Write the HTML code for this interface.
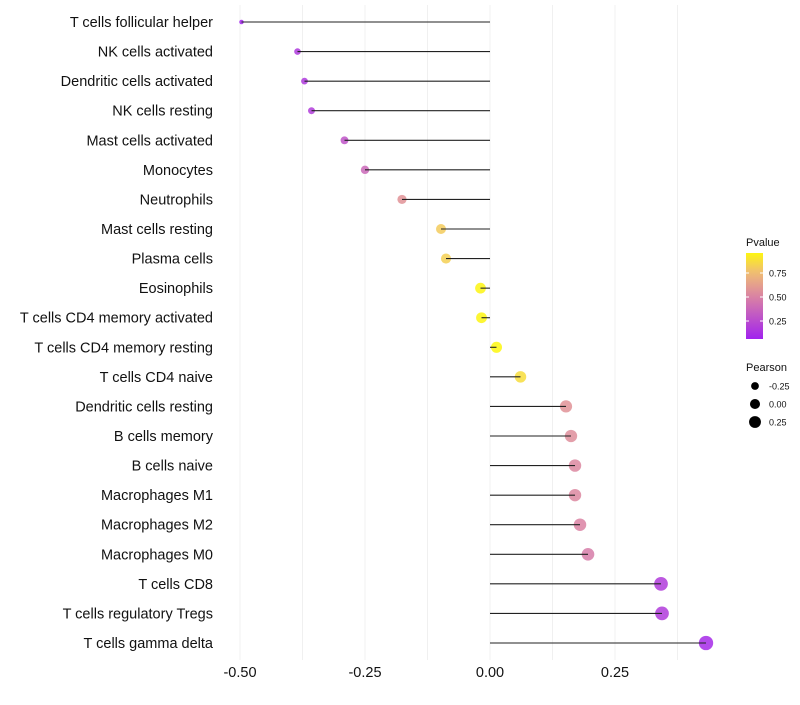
<!DOCTYPE html>
<html><head><meta charset="utf-8"><style>
body{margin:0;background:#fff}
svg text{font-family:"Liberation Sans",sans-serif}
</style></head><body>
<svg id="chart" width="800" height="700"></svg>
<script>
const categories=["T cells follicular helper","NK cells activated","Dendritic cells activated","NK cells resting","Mast cells activated","Monocytes","Neutrophils","Mast cells resting","Plasma cells","Eosinophils","T cells CD4 memory activated","T cells CD4 memory resting","T cells CD4 naive","Dendritic cells resting","B cells memory","B cells naive","Macrophages M1","Macrophages M2","Macrophages M0","T cells CD8","T cells regulatory  Tregs","T cells gamma delta"];
const pearson=[-0.497,-0.385,-0.371,-0.357,-0.291,-0.25,-0.176,-0.098,-0.088,-0.019,-0.017,0.013,0.061,0.152,0.162,0.170,0.170,0.180,0.196,0.342,0.344,0.432];
const pvalue=[0.02,0.12,0.12,0.14,0.25,0.35,0.55,0.8,0.82,0.96,0.96,0.97,0.87,0.55,0.53,0.5,0.5,0.48,0.45,0.13,0.13,0.05];
const xTicks=[-0.5,-0.25,0,0.25];
const xTickLabels=["-0.50","-0.25","0.00","0.25"];
const pTicks=[0.25,0.5,0.75];
const sizeVals=[-0.25,0,0.25];
const sizeLabels=["-0.25","0.00","0.25"];

const NS="http://www.w3.org/2000/svg";
const svg=document.getElementById('chart');
function mk(t,a,p){const e=document.createElementNS(NS,t);for(const k in a)e.setAttribute(k,a[k]);(p||svg).appendChild(e);return e;}
const x0=490,xs=500;
const X=v=>x0+v*xs;
const Y=i=>22+i*(621/(categories.length-1));
const R=v=>Math.sqrt(Math.max(3,30+50*v));
const RL=v=>Math.sqrt(Math.max(3,20.5+36*v));
function col(p){
  const stops=[[0,[160,32,240]],[0.5,[220,135,160]],[0.75,[240,190,115]],[1,[255,255,0]]];
  for(let i=1;i<stops.length;i++){if(p<=stops[i][0]){const a=stops[i-1],b=stops[i],t=(p-a[0])/(b[0]-a[0]);
    return 'rgb('+a[1].map((c,j)=>Math.round(c+(b[1][j]-c)*t)).join(',')+')';}}
  return 'rgb(255,255,0)';
}
for(let g=-0.5;g<=0.4;g+=0.125){const l=mk('line',{x1:X(g),x2:X(g),y1:5,y2:660,stroke:'#f0f0f0','stroke-width':1});

}
categories.forEach((c,i)=>{
  const y=Y(i);
  const t=mk('text',{x:213,y:y+5,'text-anchor':'end','font-size':14.5,fill:'#111'});t.textContent=c;
  
  
  const pt=mk('circle',{cx:X(pearson[i]),cy:y,r:R(pearson[i]),fill:col(pvalue[i]),'fill-opacity':0.85});
  
  
  const s=mk('line',{x1:X(0),x2:X(pearson[i]),y1:y,y2:y,stroke:'#222','stroke-width':1.1});
  
  
});
xTicks.forEach((v,i)=>{const t=mk('text',{x:X(v),y:677,'text-anchor':'middle','font-size':14.5,fill:'#111'});t.textContent=xTickLabels[i];

});
const defs=mk('defs',{});const lg=mk('linearGradient',{id:'pg',x1:0,y1:1,x2:0,y2:0},defs);
for(let k=0;k<=10;k++)mk('stop',{offset:k/10,'stop-color':col(0.01+k/10*0.95)},lg);
const lt=mk('text',{x:746,y:246,'font-size':11,fill:'#111'});lt.textContent='Pvalue';


const bar=mk('rect',{x:746,y:253,width:17,height:86,fill:'url(#pg)'});


const PY=p=>345-p*96;
pTicks.forEach(p=>{mk('line',{x1:746,x2:749,y1:PY(p),y2:PY(p),stroke:'#fff'});mk('line',{x1:760,x2:763,y1:PY(p),y2:PY(p),stroke:'#fff'});
const t=mk('text',{x:769,y:PY(p)+3.5,'font-size':9,fill:'#111'});t.textContent=p.toFixed(2);

});
const st=mk('text',{x:746,y:371,'font-size':11,fill:'#111'});st.textContent='Pearson';


sizeVals.forEach((v,i)=>{const y=386+i*18;const c=mk('circle',{cx:755,cy:y,r:RL(v)+0.5,fill:'#000'});


const t=mk('text',{x:769,y:y+3.5,'font-size':9,fill:'#111'});t.textContent=sizeLabels[i];

});
</script>
</body></html>
